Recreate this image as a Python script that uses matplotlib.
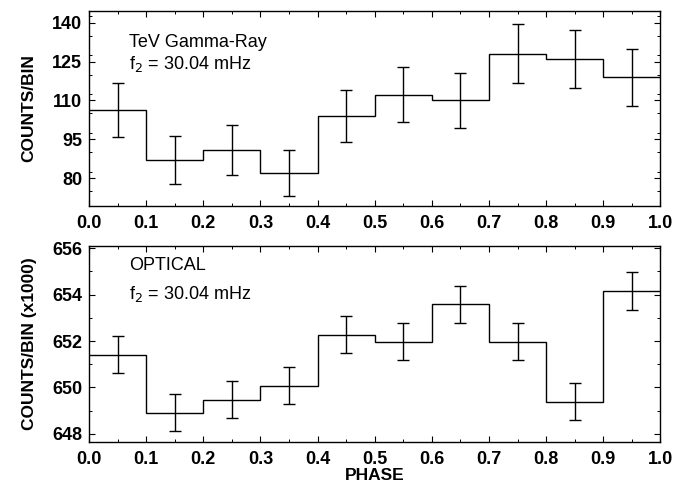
import numpy as np
import matplotlib.pyplot as plt
from matplotlib.ticker import MultipleLocator

# phase bins
edges = [0.0, 0.1, 0.2, 0.3, 0.4, 0.5, 0.6, 0.7, 0.8, 0.9, 1.0]
centers = [0.05, 0.15, 0.25, 0.35, 0.45, 0.55, 0.65, 0.75, 0.85, 0.95]

# TeV gamma-ray counts per bin
tev_counts = [106.3, 87.0, 91.0, 82.0, 104.0, 112.2, 110.0, 128.0, 126.0, 119.0]
tev_err = [10.5, 9.3, 9.6, 9.0, 10.2, 10.7, 10.6, 11.4, 11.3, 11.0]

# optical counts per bin (x1000)
opt_counts = [651.42, 648.92, 649.48, 650.08, 652.28, 651.98, 653.58, 651.98, 649.38, 654.16]
opt_err = [0.81, 0.80, 0.80, 0.80, 0.80, 0.81, 0.81, 0.81, 0.80, 0.81]

plt.rcParams['font.family'] = ['Liberation Sans', 'DejaVu Sans']

fig = plt.figure(figsize=(6.84, 4.84), dpi=100)
ax1 = fig.add_axes([0.1301, 0.5744, 0.8355, 0.4029])
ax2 = fig.add_axes([0.1301, 0.0868, 0.8355, 0.4050])


def panel(ax, vals, errs, ylim, major, minor, title, ty, fy):
    ax.stairs(vals, edges, color='black', lw=1.0, baseline=None)
    ax.errorbar(centers, vals, yerr=errs, fmt='none', ecolor='black',
                elinewidth=1.0, capsize=4.5, capthick=1.0)
    ax.set_xlim(0, 1)
    ax.set_ylim(*ylim)
    ax.xaxis.set_major_locator(MultipleLocator(0.1))
    ax.xaxis.set_minor_locator(MultipleLocator(0.05))
    ax.yaxis.set_major_locator(MultipleLocator(major))
    ax.yaxis.set_minor_locator(MultipleLocator(minor))
    ax.tick_params(which='both', direction='in', top=True, right=True)
    ax.tick_params(which='major', length=4, width=0.8, pad=5, labelsize=13)
    ax.tick_params(axis='x', which='major', pad=6.5)
    ax.tick_params(which='minor', length=2, width=0.7)
    ax.xaxis.set_major_formatter(plt.FormatStrFormatter('%.1f'))
    for sp in ax.spines.values():
        sp.set_linewidth(1.0)
    ax.text(0.07, ty, title, transform=ax.transAxes, fontsize=13,
            ha='left', va='center')
    ax.text(0.07, fy, r'f$_2$ = 30.04 mHz', transform=ax.transAxes,
            fontsize=13, ha='left', va='center')


panel(ax1, tev_counts, tev_err, (69.3, 144.5), 15, 7.5, 'TeV Gamma-Ray', 0.84, 0.727)
ax1.set_yticks([80, 95, 110, 125, 140])
panel(ax2, opt_counts, opt_err, (647.65, 656.1), 2, 1, 'OPTICAL', 0.90, 0.755)

for ax in (ax1, ax2):
    for lab in ax.get_xticklabels() + ax.get_yticklabels():
        lab.set_fontweight('bold')

ax1.set_ylabel('COUNTS/BIN', fontsize=12.5, fontweight='bold', labelpad=11)
ax2.set_ylabel('COUNTS/BIN (x1000)', fontsize=12.5, fontweight='bold', labelpad=11)
ax2.set_xlabel('PHASE', fontsize=12.5, fontweight='bold', labelpad=0)

fig.savefig('out.png', dpi=100)
